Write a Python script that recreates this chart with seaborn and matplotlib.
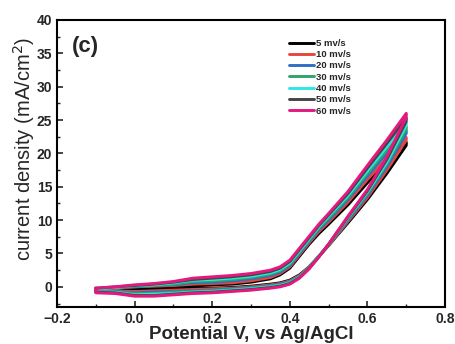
import pandas as pd
import matplotlib
matplotlib.use("Agg")
import matplotlib.pyplot as plt
import seaborn as sns
from matplotlib.ticker import MultipleLocator

# CV curves at different scan rates
potential = [-0.1, -0.05, 0.0, 0.05, 0.1, 0.15, 0.2, 0.25, 0.3, 0.35, 0.375,
             0.4, 0.425, 0.45, 0.475, 0.5, 0.55, 0.6, 0.65, 0.7]

rates = ["5 mv/s", "10 mv/s", "20 mv/s", "30 mv/s", "40 mv/s", "50 mv/s", "60 mv/s"]
colors = ["#000000", "#e8453c", "#2f6fc4", "#2ca66a", "#2ee6e6", "#444444", "#e5187f"]

# upper branch (forward scan), by increasing potential
upper_5 = [-0.4, -0.3, -0.1, 0.0, 0.1, 0.2, 0.3, 0.4, 0.7, 1.2, 1.8, 2.8, 4.6, 6.4, 8.0, 9.4, 12.3, 15.6, 18.7, 21.7]
upper_10 = [-0.4, -0.2, 0.0, 0.1, 0.2, 0.4, 0.5, 0.6, 0.9, 1.4, 2.0, 3.0, 4.8, 6.6, 8.3, 9.7, 12.7, 16.1, 19.3, 22.4]
upper_20 = [-0.3, -0.1, 0.0, 0.2, 0.3, 0.6, 0.7, 0.9, 1.2, 1.7, 2.2, 3.2, 5.0, 6.8, 8.6, 10.0, 13.1, 16.6, 20.0, 23.4]
upper_30 = [-0.3, -0.1, 0.1, 0.2, 0.4, 0.8, 0.9, 1.1, 1.4, 1.9, 2.4, 3.4, 5.2, 7.0, 8.8, 10.3, 13.4, 17.0, 20.5, 24.0]
upper_40 = [-0.3, -0.1, 0.2, 0.3, 0.6, 1.0, 1.1, 1.3, 1.6, 2.1, 2.6, 3.6, 5.4, 7.2, 9.0, 10.6, 13.7, 17.4, 21.0, 24.6]
upper_50 = [-0.2, 0.0, 0.2, 0.4, 0.7, 1.1, 1.3, 1.5, 1.8, 2.3, 2.8, 3.8, 5.6, 7.4, 9.2, 10.8, 14.0, 17.8, 21.5, 25.3]
upper_60 = [-0.2, 0.0, 0.3, 0.5, 0.8, 1.3, 1.5, 1.7, 2.0, 2.5, 3.0, 4.0, 5.8, 7.6, 9.4, 11.0, 14.3, 18.2, 22.0, 26.0]

# lower branch (reverse scan), by increasing potential
lower_5 = [-0.5, -0.5, -0.5, -0.4, -0.3, -0.2, -0.2, -0.1, 0.1, 0.4, 0.6, 1.0, 1.8, 3.0, 4.6, 6.2, 9.6, 13.1, 17.0, 21.2]
lower_10 = [-0.6, -0.6, -0.7, -0.6, -0.5, -0.4, -0.3, -0.2, 0.0, 0.3, 0.5, 0.9, 1.7, 3.0, 4.6, 6.2, 9.8, 13.4, 17.5, 22.0]
lower_20 = [-0.7, -0.7, -0.9, -0.8, -0.7, -0.6, -0.5, -0.3, -0.1, 0.2, 0.4, 0.8, 1.6, 2.9, 4.6, 6.3, 10.0, 13.7, 18.0, 23.0]
lower_30 = [-0.7, -0.8, -1.0, -1.0, -0.8, -0.7, -0.6, -0.4, -0.2, 0.1, 0.3, 0.7, 1.5, 2.9, 4.6, 6.3, 10.2, 14.0, 18.4, 23.6]
lower_40 = [-0.8, -0.8, -1.2, -1.1, -1.0, -0.8, -0.7, -0.5, -0.3, 0.0, 0.2, 0.6, 1.5, 2.8, 4.6, 6.4, 10.4, 14.2, 18.7, 24.2]
lower_50 = [-0.8, -0.9, -1.3, -1.3, -1.1, -0.9, -0.8, -0.6, -0.4, -0.1, 0.1, 0.5, 1.4, 2.8, 4.5, 6.4, 10.5, 14.4, 19.1, 24.8]
lower_60 = [-0.9, -1.0, -1.4, -1.4, -1.2, -1.0, -0.9, -0.7, -0.5, -0.2, 0.0, 0.4, 1.3, 2.7, 4.5, 6.4, 10.6, 14.6, 19.5, 25.4]

uppers = [upper_5, upper_10, upper_20, upper_30, upper_40, upper_50, upper_60]
lowers = [lower_5, lower_10, lower_20, lower_30, lower_40, lower_50, lower_60]

# closed loops: forward then back
rows = []
for rate, up, low in zip(rates, uppers, lowers):
    e_loop = potential + potential[::-1] + [potential[0]]
    j_loop = up + low[::-1] + [up[0]]
    for i, (e, j) in enumerate(zip(e_loop, j_loop)):
        rows.append({"E": e, "j": j, "rate": rate, "step": i})
df = pd.DataFrame(rows)

sns.set_style("ticks")
plt.rcParams["font.family"] = ["Liberation Sans", "DejaVu Sans"]

fig = plt.figure(figsize=(4.56, 3.44), dpi=100)
ax = fig.add_axes([0.125, 0.108, 0.851, 0.834])

sns.lineplot(data=df, x="E", y="j", hue="rate", hue_order=rates,
             palette=colors, sort=False, estimator=None, linewidth=2.1,
             solid_joinstyle="round", solid_capstyle="round", ax=ax)

ax.set_xlim(-0.2, 0.8)
ax.set_ylim(-3, 40)
ax.xaxis.set_major_locator(MultipleLocator(0.2))
ax.xaxis.set_minor_locator(MultipleLocator(0.1))
ax.yaxis.set_major_locator(MultipleLocator(5))
ax.yaxis.set_minor_locator(MultipleLocator(2.5))
ax.tick_params(which="major", direction="in", length=4, width=1.2, labelsize=10)
ax.tick_params(which="minor", direction="in", length=2, width=1.0)
for lab in ax.get_xticklabels() + ax.get_yticklabels():
    lab.set_fontweight("bold")
for s in ax.spines.values():
    s.set_linewidth(1.5)
    s.set_color("black")

ax.set_xlabel("Potential V, vs Ag/AgCl", fontsize=13.5, fontweight="bold", labelpad=0)
ax.set_ylabel("current density (mA/cm$^2$)", fontsize=14.5)
ax.yaxis.set_label_coords(-0.052, 0.55)
ax.text(0.039, 0.906, "(c)", transform=ax.transAxes, fontsize=16,
        fontweight="bold", va="center")

ax.legend(loc="upper left", bbox_to_anchor=(0.588, 0.947), frameon=False,
          prop={"size": 6.8, "weight": "bold"}, handlelength=2.6,
          handletextpad=0.25, labelspacing=0.24, borderaxespad=0)

fig.savefig("out.png", dpi=100)
